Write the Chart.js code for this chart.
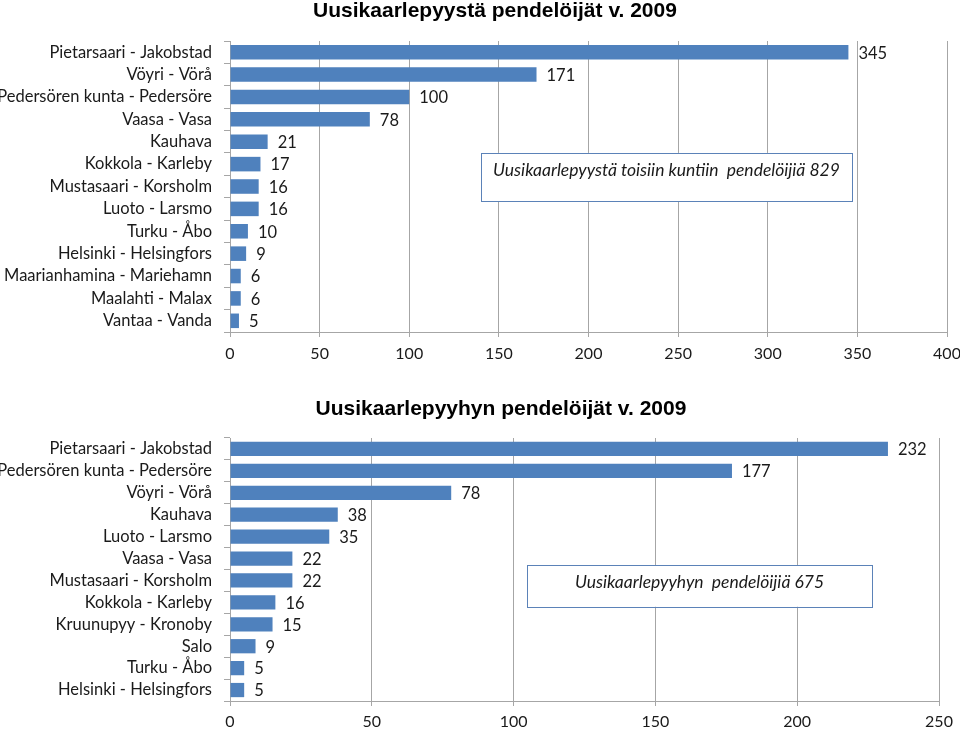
<!DOCTYPE html>
<html>
<head>
<meta charset="utf-8">
<script src="https://cdn.jsdelivr.net/npm/chart.js@4.4.1/dist/chart.umd.min.js"></script>
<style>
  body { margin: 0; background: #fff; }
  .box { position: absolute; left: 0; width: 960px; }
  #fromBox { top: 0; height: 372px; }
  #toBox { top: 385px; height: 344px; }
  .title {
    position: absolute; left: 30px; width: 930px; text-align: center;
    font: bold 21px "Liberation Sans", Arial, sans-serif; color: #000; line-height: 24px;
  }
  #fromTitle { top: -2px; }
  #toTitle { top: 396px; left: 36px; }
</style>
</head>
<body>
<div class="box" id="fromBox"><canvas id="fromChart"></canvas></div>
<div class="box" id="toBox"><canvas id="toChart"></canvas></div>
<div class="title" id="fromTitle"></div>
<div class="title" id="toTitle"></div>
<script>
// Uusikaarlepyystä lähtevät (outgoing)
const fromLabels = [
  'Pietarsaari - Jakobstad', 'Vöyri - Vörå', 'Pedersören kunta - Pedersöre', 'Vaasa - Vasa',
  'Kauhava', 'Kokkola - Karleby', 'Mustasaari - Korsholm', 'Luoto - Larsmo', 'Turku - Åbo',
  'Helsinki - Helsingfors', 'Maarianhamina - Mariehamn', 'Maalahti - Malax', 'Vantaa - Vanda'
];
const fromValues = [345, 171, 100, 78, 21, 17, 16, 16, 10, 9, 6, 6, 5];
const fromTitle = 'Uusikaarlepyystä pendelöijät v. 2009';
const fromNote = 'Uusikaarlepyystä toisiin kuntiin  pendelöijiä 829';

// Uusikaarlepyyhyn tulevat (incoming)
const toLabels = [
  'Pietarsaari - Jakobstad', 'Pedersören kunta - Pedersöre', 'Vöyri - Vörå', 'Kauhava',
  'Luoto - Larsmo', 'Vaasa - Vasa', 'Mustasaari - Korsholm', 'Kokkola - Karleby',
  'Kruunupyy - Kronoby', 'Salo', 'Turku - Åbo', 'Helsinki - Helsingfors'
];
const toValues = [232, 177, 78, 38, 35, 22, 22, 16, 15, 9, 5, 5];
const toTitle = 'Uusikaarlepyyhyn pendelöijät v. 2009';
const toNote = 'Uusikaarlepyyhyn  pendelöijiä 675';

const labelFont = 'Lato, "Open Sans", sans-serif';
const barColor = '#4f81bd';
const gridColor = '#a6a6a6';

document.getElementById('fromTitle').textContent = fromTitle;
document.getElementById('toTitle').textContent = toTitle;

// value labels at the bar ends
const valueLabels = {
  id: 'valueLabels',
  afterDatasetsDraw(chart) {
    const ctx = chart.ctx;
    const meta = chart.getDatasetMeta(0);
    const data = chart.data.datasets[0].data;
    ctx.save();
    ctx.font = '16.5px ' + labelFont;
    ctx.fillStyle = '#1a1a1a';
    ctx.textAlign = 'left';
    ctx.textBaseline = 'middle';
    meta.data.forEach((bar, i) => {
      ctx.fillText(String(data[i]), bar.x + 10, bar.y + 1);
    });
    ctx.restore();
  }
};

// text box in value / category coordinates
const noteBox = {
  id: 'noteBox',
  afterDraw(chart, args, opts) {
    if (!opts.text) return;
    const x = chart.scales.x, y = chart.scales.y;
    const l = x.getPixelForValue(opts.xMin), r = x.getPixelForValue(opts.xMax);
    const t = y.getPixelForValue(opts.yMin), b = y.getPixelForValue(opts.yMax);
    const ctx = chart.ctx;
    ctx.save();
    ctx.fillStyle = '#fff';
    ctx.fillRect(l, t, r - l, b - t);
    ctx.strokeStyle = '#5b82b8';
    ctx.lineWidth = 1;
    ctx.strokeRect(Math.round(l) + 0.5, Math.round(t) + 0.5, Math.round(r - l), Math.round(b - t));
    ctx.font = 'italic 17.5px ' + labelFont;
    ctx.fillStyle = '#1a1a1a';
    ctx.textAlign = 'center';
    ctx.textBaseline = 'middle';
    ctx.fillText(opts.text, (l + r) / 2, t + 17);
    ctx.restore();
  }
};

function makeChart(id, labels, values, note, xMax, cfg) {
  return new Chart(document.getElementById(id), {
    type: 'bar',
    data: {
      labels,
      datasets: [{
        data: values,
        backgroundColor: barColor,
        borderWidth: 0,
        barPercentage: 0.65,
        categoryPercentage: 1
      }]
    },
    options: {
      indexAxis: 'y',
      responsive: true,
      maintainAspectRatio: false,
      animation: false,
      layout: { padding: { left: 0, right: 0, top: cfg.padTop, bottom: 0 } },
      scales: {
        x: {
          min: 0,
          max: xMax,
          ticks: { stepSize: 50, color: '#1a1a1a', padding: cfg.xPad, font: { family: labelFont, size: 16 } },
          grid: { color: gridColor, tickLength: 5 },
          border: { color: gridColor },
          afterFit(scale) {
            scale.height = cfg.xHeight;
            scale.paddingRight = cfg.right;
          }
        },
        y: {
          ticks: { color: '#1a1a1a', padding: 12, autoSkip: false, font: { family: labelFont, size: 16.5 } },
          grid: { drawOnChartArea: false, offset: true, tickLength: 6, color: gridColor },
          border: { color: gridColor },
          afterFit(scale) { scale.width = 230; }
        }
      },
      plugins: {
        legend: { display: false },
        tooltip: { enabled: false },
        title: { display: false },
        noteBox: Object.assign({ text: note }, cfg.box)
      }
    },
    plugins: [valueLabels, noteBox]
  });
}

makeChart('fromChart', fromLabels, fromValues, fromNote, 400, {
  padTop: 41, xHeight: 40, xPad: 7, right: 13,
  box: { xMin: 140, xMax: 347, yMin: 4.5, yMax: 6.65 }
});
makeChart('toChart', toLabels, toValues, toNote, 250, {
  padTop: 53, xHeight: 28, xPad: 6, right: 21,
  box: { xMin: 104.7, xMax: 226.4, yMin: 5.3, yMax: 7.2 }
});
</script>
</body>
</html>
